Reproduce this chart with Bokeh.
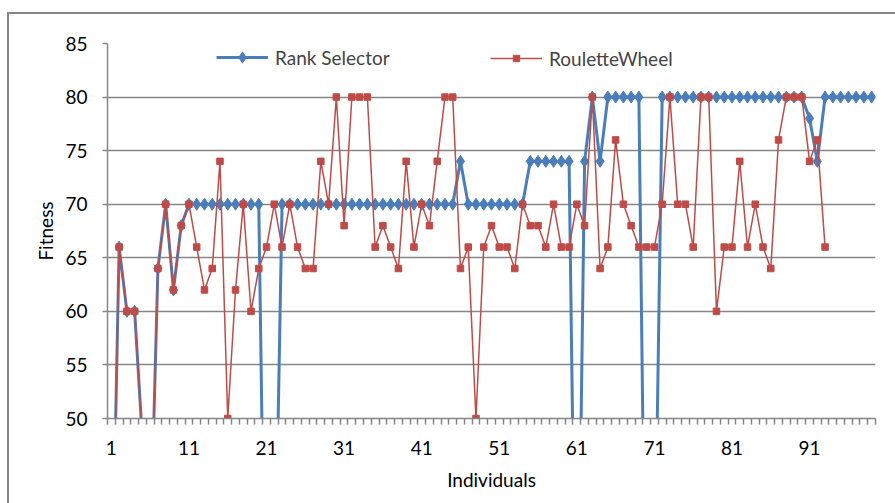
from bokeh.plotting import figure
from bokeh.models import FixedTicker, Legend, LegendItem, Range1d
from bokeh.embed import file_html
from bokeh.resources import INLINE

# ---------------- data ----------------
individuals = list(range(1, 100))

rank_selector = [
    30, 66, 60, 60, 48, 37, 64, 70, 62, 68,
    70, 70, 70, 70, 70, 70, 70, 70, 70, 70,
    20, 30, 70, 70, 70, 70, 70, 70, 70, 70,
    70, 70, 70, 70, 70, 70, 70, 70, 70, 70,
    70, 70, 70, 70, 70, 74, 70, 70, 70, 70,
    70, 70, 70, 70, 74, 74, 74, 74, 74, 74,
    20, 74, 80, 74, 80, 80, 80, 80, 80, 20,
    32, 80, 80, 80, 80, 80, 80, 80, 80, 80,
    80, 80, 80, 80, 80, 80, 80, 80, 80, 80,
    78, 74, 80, 80, 80, 80, 80, 80, 80,
]

roulette_wheel = [
    30, 66, 60, 60, 48, 37, 64, 70, 62, 68,
    70, 66, 62, 64, 74, 50, 62, 70, 60, 64,
    66, 70, 66, 70, 66, 64, 64, 74, 70, 80,
    68, 80, 80, 80, 66, 68, 66, 64, 74, 66,
    70, 68, 74, 80, 80, 64, 66, 50, 66, 68,
    66, 66, 64, 70, 68, 68, 66, 70, 66, 66,
    70, 68, 80, 64, 66, 76, 70, 68, 66, 66,
    66, 70, 80, 70, 70, 66, 80, 80, 60, 66,
    66, 74, 66, 70, 66, 64, 76, 80, 80, 80,
    74, 76, 66,
]

y_ticks = [50, 55, 60, 65, 70, 75, 80, 85]
x_tick_positions = [1, 11, 21, 31, 41, 51, 61, 71, 81, 91]
x_tick_labels = ["1", "11", "21", "31", "41", "51", "61", "71", "81", "91"]

series_names = ["Rank Selector", "RouletteWheel"]

# ---------------- style ----------------
BLUE = "#4A7EBB"
RED = "#BE4B48"
GRAY = "#868686"
FONT = "Lato"

p = figure(width=895, height=503, output_backend="svg", toolbar_location=None,
           x_range=Range1d(0.5, len(individuals) + 0.5), y_range=Range1d(50, 85),
           min_border_left=107, min_border_right=20, min_border_top=43,
           min_border_bottom=85)
p.outline_line_color = None
p.background_fill_color = "white"
p.border_fill_color = None
# chart-area border (left and top edges) painted behind the transparent canvas
p.styles = {
    "background": (
        f"linear-gradient({GRAY},{GRAY}) 7px 12px / 2px 491px no-repeat, "
        f"linear-gradient({GRAY},{GRAY}) 7px 12px / 888px 2px no-repeat, white"
    )
}

# axes
boundaries = [i - 0.5 for i in individuals] + [individuals[-1] + 0.5]
p.xaxis.ticker = FixedTicker(ticks=x_tick_positions, minor_ticks=boundaries)
p.xaxis.major_label_overrides = {t: l for t, l in zip(x_tick_positions, x_tick_labels)}
p.xaxis.major_tick_out = 0
p.xaxis.major_tick_in = 0
p.xaxis.minor_tick_out = 6
p.xaxis.minor_tick_in = 0
p.xaxis.minor_tick_line_color = GRAY
p.xaxis.axis_label = "Individuals"

p.yaxis.ticker = FixedTicker(ticks=y_ticks)
p.yaxis.major_tick_out = 5
p.yaxis.major_tick_in = 0
p.yaxis.minor_tick_line_color = None
p.yaxis.axis_label = "Fitness"

for ax in (p.xaxis[0], p.yaxis[0]):
    ax.axis_line_color = GRAY
    ax.axis_line_width = 1.5
    ax.major_tick_line_color = GRAY
    ax.major_tick_line_width = 1.5
    ax.minor_tick_line_width = 1.5
    ax.major_label_text_font = FONT
    ax.major_label_text_font_size = "19px"
    ax.major_label_text_color = "black"
    ax.axis_label_text_font = FONT
    ax.axis_label_text_font_size = "19px"
    ax.axis_label_text_font_style = "normal"
    ax.axis_label_text_color = "black"

p.yaxis.major_label_standoff = 15
p.yaxis.axis_label_standoff = 5
p.xaxis.major_label_standoff = 16
p.xaxis.axis_label_standoff = 10

p.xgrid.visible = False
p.ygrid.ticker = FixedTicker(ticks=y_ticks)
p.ygrid.grid_line_color = GRAY
p.ygrid.grid_line_width = 1.3

# series
blue_line = p.line(individuals, rank_selector, line_color=BLUE, line_width=3)
blue_pts = p.scatter(individuals, rank_selector, marker="diamond", size=12,
                     fill_color=BLUE, line_color=BLUE)
n_red = len(roulette_wheel)
red_line = p.line(individuals[:n_red], roulette_wheel, line_color=RED, line_width=1.5)
red_pts = p.scatter(individuals[:n_red], roulette_wheel, marker="square", size=6.5,
                    fill_color=RED, line_color=RED)

# legends
leg1 = Legend(items=[LegendItem(label=series_names[0], renderers=[blue_line, blue_pts])],
              location=(109, 347), orientation="horizontal", glyph_width=52,
              glyph_height=28, label_height=28, label_standoff=7, padding=0, margin=0,
              spacing=0, border_line_color=None, background_fill_alpha=0,
              label_text_font=FONT, label_text_font_size="19px")
leg2 = Legend(items=[LegendItem(label=series_names[1], renderers=[red_line, red_pts])],
              location=(383, 348), orientation="horizontal", glyph_width=52,
              glyph_height=16, label_height=24, label_standoff=7, padding=0, margin=0,
              spacing=0, border_line_color=None, background_fill_alpha=0,
              label_text_font=FONT, label_text_font_size="19px")
p.add_layout(leg1)
p.add_layout(leg2)

open("out.html", "w").write(file_html(p, INLINE))
